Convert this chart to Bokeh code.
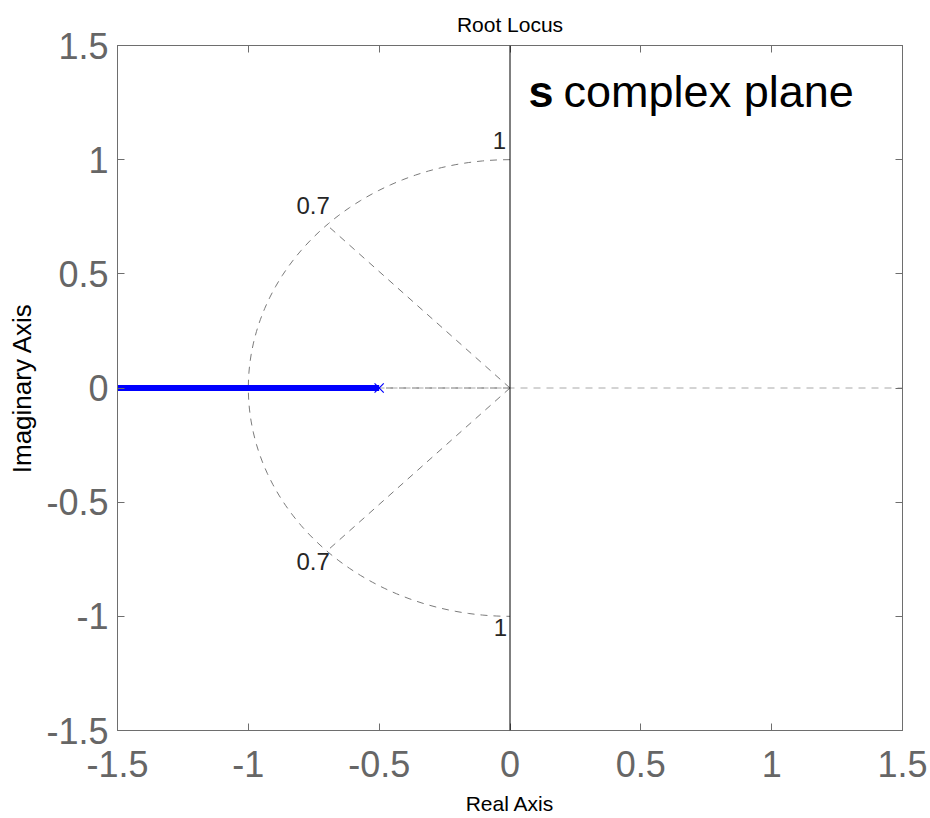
import numpy as np
from bokeh.plotting import figure
from bokeh.models import Range1d, FixedTicker, LinearAxis, Span
from bokeh.core.properties import value
from bokeh.embed import file_html
from bokeh.resources import INLINE

# ---- data ----
tick_values = [-1.5, -1, -0.5, 0, 0.5, 1, 1.5]
tick_labels = ["-1.5", "-1", "-0.5", "0", "0.5", "1", "1.5"]
locus_real = [-1.5, -0.5]
locus_imag = [0.0, 0.0]
pole_real = [-0.5]
pole_imag = [0.0]
damping_ratios = [0.7, 1.0]
damping_labels = ["0.7"]
natural_freqs = [1.0]
freq_labels = ["1"]

FRAME = "#6e6e6e"
GRID = "#7a7a7a"
TICKFONT = "Liberation Sans"

p = figure(width=930, height=818,
           x_range=Range1d(-1.5, 1.5), y_range=Range1d(-1.5, 1.5),
           output_backend="svg", toolbar_location=None,
           min_border_left=117, min_border_right=28,
           min_border_top=45, min_border_bottom=88,
           title="Root Locus", x_axis_label="Real Axis", y_axis_label="Imaginary Axis")
p.grid.visible = False
p.outline_line_color = FRAME
p.background_fill_color = "white"
p.border_fill_color = "white"

p.title.align = "center"
p.title.text_font = "Liberation Sans"
p.title.text_font_size = "21px"
p.title.text_font_style = "normal"
p.title.text_color = "black"
p.title.standoff = 19

overrides = {v: l for v, l in zip(tick_values, tick_labels)}
blank = {v: "" for v in tick_values}


def style_axis(ax, show_labels=True):
    ax.ticker = FixedTicker(ticks=tick_values)
    ax.axis_line_color = FRAME
    ax.major_tick_line_color = FRAME
    ax.major_tick_in = 7
    ax.major_tick_out = 0
    ax.minor_tick_line_color = None
    if show_labels:
        ax.major_label_overrides = overrides
        ax.major_label_text_font = TICKFONT
        ax.major_label_text_font_size = "36px"
        ax.major_label_text_color = "#666666"
        ax.axis_label_text_font = "Liberation Sans"
        ax.axis_label_text_font_style = "normal"
        ax.axis_label_text_color = "black"
    else:
        ax.major_label_overrides = blank
        ax.major_label_text_font_size = "10px"
        ax.major_label_standoff = 0


for ax in p.xaxis:
    style_axis(ax)
    ax.major_label_standoff = 20
    ax.axis_label_standoff = 12
    ax.axis_label_text_font_size = "21px"
for ax in p.yaxis:
    style_axis(ax)
    ax.major_label_standoff = 9
    ax.axis_label_standoff = 6
    ax.axis_label_text_font_size = "26px"

top = LinearAxis()
style_axis(top, show_labels=False)
p.add_layout(top, "above")
right = LinearAxis()
style_axis(right, show_labels=False)
p.add_layout(right, "right")

# ---- s-plane grid (sgrid) ----
wn_max = max(natural_freqs)
p.add_layout(Span(location=0, dimension="width", line_color="#a8a8a8",
                  line_dash="7 6", line_width=1, level="underlay"))
for z in damping_ratios:
    wd = np.sqrt(1 - z ** 2) * wn_max
    p.line([0, -z * wn_max], [0, wd], line_color=GRID, line_dash="7 6", line_width=1)
    if wd > 0:
        p.line([0, -z * wn_max], [0, -wd], line_color=GRID, line_dash="7 6", line_width=1)
for wn in natural_freqs:
    th = np.linspace(np.pi / 2, 3 * np.pi / 2, 120)
    p.line(wn * np.cos(th), wn * np.sin(th), line_color=GRID, line_dash="7 6", line_width=1)

p.add_layout(Span(location=0, dimension="height", line_color="black", line_width=1))

lab_font = value("Liberation Sans")
for z, lab in zip(damping_ratios, damping_labels):
    wd = np.sqrt(1 - z ** 2) * wn_max
    p.text(x=[-z * wn_max], y=[wd], text=[lab], text_align="right",
           text_baseline="alphabetic", x_offset=3, y_offset=-19,
           text_font=lab_font, text_font_size="24px", text_color="#262626")
    p.text(x=[-z * wn_max], y=[-wd], text=[lab], text_align="right",
           text_baseline="top", x_offset=3, y_offset=2,
           text_font=lab_font, text_font_size="24px", text_color="#262626")
for wn, lab in zip(natural_freqs, freq_labels):
    p.text(x=[0], y=[wn], text=[lab], text_align="right", text_baseline="alphabetic",
           x_offset=-4, y_offset=-19, text_font=lab_font, text_font_size="24px",
           text_color="#262626")
    p.text(x=[0], y=[-wn], text=[lab], text_align="right", text_baseline="top",
           x_offset=-3, y_offset=3, text_font=lab_font, text_font_size="24px",
           text_color="#262626")

# ---- root locus ----
p.line(locus_real, locus_imag, line_color="#0000ff", line_width=6)
p.scatter(pole_real, pole_imag, marker="x", size=13, line_color="#0000ff", line_width=1.2)

# ---- annotation ----
p.text(x=[0.071], y=[1.237], text=["s"], text_font=lab_font, text_font_style="bold",
       text_font_size="45px", text_color="black", text_baseline="alphabetic", y_offset=-14)
p.text(x=[0.071], y=[1.237], text=["complex plane"], text_font=lab_font,
       text_font_size="45px", text_color="black", text_baseline="alphabetic",
       x_offset=35, y_offset=-14)

open("out.html", "w").write(file_html(p, INLINE))
